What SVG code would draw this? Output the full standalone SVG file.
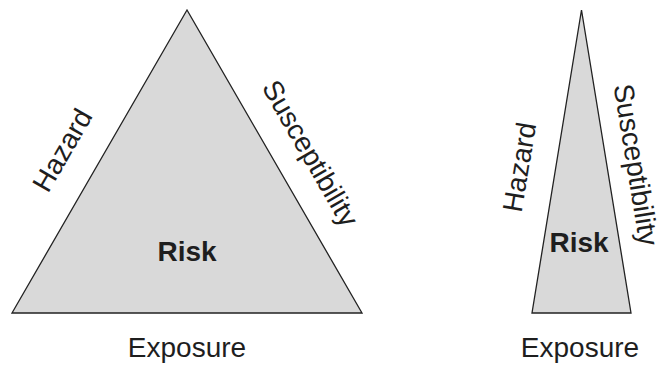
<svg xmlns="http://www.w3.org/2000/svg" width="657" height="367" viewBox="0 0 657 367">
<style>
.tri{fill:#d9d9d9;stroke:#222;stroke-width:1.3;stroke-linejoin:miter}
.t{font-family:"Liberation Sans",Arial,sans-serif;font-size:28px;fill:#1e1e1e;text-anchor:middle}
.b{font-weight:bold}
</style>
<rect width="657" height="367" fill="#fff"/>
<g id="left-triangle">
<polygon class="tri" points="187,10 12,313 362,313"/>
<text class="t b" x="187" y="261">Risk</text>
<text class="t" x="187" y="357">Exposure</text>
<text class="t" transform="translate(62,150) rotate(-60)" x="0" y="10">Hazard</text>
<text class="t" transform="translate(309,154) rotate(60)" x="0" y="8">Susceptibility</text>
</g>
<g id="right-triangle">
<polygon class="tri" points="581.5,10 532,313 631,313"/>
<text class="t b" x="579" y="252">Risk</text>
<text class="t" x="580" y="357">Exposure</text>
<text class="t" transform="translate(519,167) rotate(-80.6)" x="0" y="10">Hazard</text>
<text class="t" transform="translate(634.5,165) rotate(80.7)" x="0" y="8">Susceptibility</text>
</g>
<g id="connectors"></g>
</svg>
